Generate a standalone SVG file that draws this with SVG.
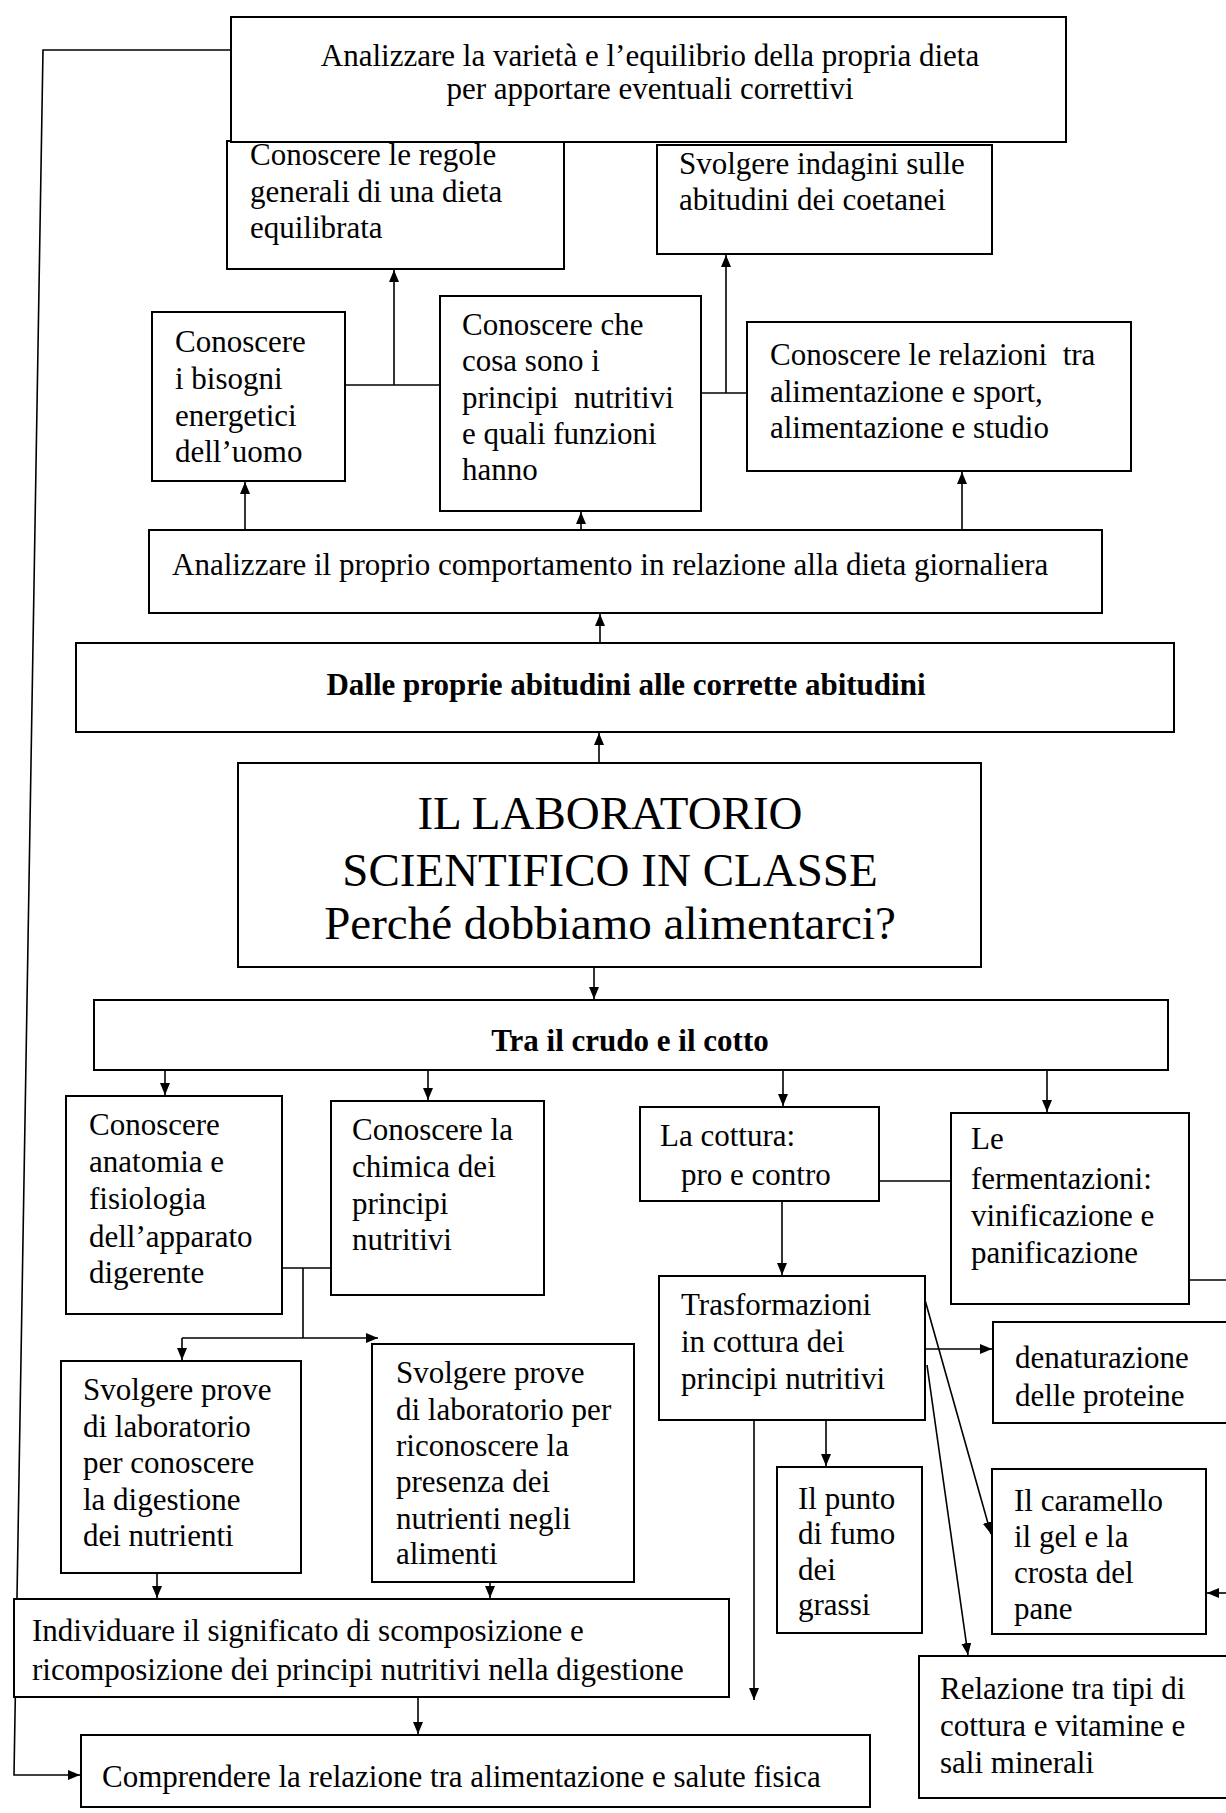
<svg xmlns="http://www.w3.org/2000/svg" width="1226" height="1813" viewBox="0 0 1226 1813">
<style>
.box{fill:#fff;stroke:#000;stroke-width:2}
.t{font-family:"Liberation Serif","Times New Roman",serif;font-size:31px;fill:#000}
.b{font-weight:bold}
.c{text-anchor:middle}
.ttl{font-size:47px}
.conn{stroke:#000;stroke-width:1.6;fill:none}
</style>
<defs>
<marker id="ah" markerUnits="userSpaceOnUse" markerWidth="12" markerHeight="10" refX="12" refY="5" orient="auto">
<path d="M0,0 L12,5 L0,10 z" fill="#000"/>
</marker>
</defs>
<rect width="1226" height="1813" fill="#fff"/>

<g id="connectors">
<polyline class="conn" points="231,50 43,50 14,1775 80,1775" marker-end="url(#ah)"/>
<line class="conn" x1="345" y1="385" x2="440" y2="385"/>
<line class="conn" x1="394" y1="385" x2="394" y2="270" marker-end="url(#ah)"/>
<line class="conn" x1="701" y1="393" x2="747" y2="393"/>
<line class="conn" x1="726" y1="393" x2="726" y2="255" marker-end="url(#ah)"/>
<line class="conn" x1="245" y1="530" x2="245" y2="482" marker-end="url(#ah)"/>
<line class="conn" x1="581" y1="530" x2="581" y2="512" marker-end="url(#ah)"/>
<line class="conn" x1="962" y1="530" x2="962" y2="472" marker-end="url(#ah)"/>
<line class="conn" x1="600" y1="643" x2="600" y2="614" marker-end="url(#ah)"/>
<line class="conn" x1="599" y1="763" x2="599" y2="733" marker-end="url(#ah)"/>
<line class="conn" x1="594" y1="967" x2="594" y2="999" marker-end="url(#ah)"/>
<line class="conn" x1="165" y1="1070" x2="165" y2="1095" marker-end="url(#ah)"/>
<line class="conn" x1="428" y1="1070" x2="428" y2="1100" marker-end="url(#ah)"/>
<line class="conn" x1="783" y1="1070" x2="783" y2="1106" marker-end="url(#ah)"/>
<line class="conn" x1="1047" y1="1070" x2="1047" y2="1112" marker-end="url(#ah)"/>
<line class="conn" x1="282" y1="1268" x2="331" y2="1268"/>
<line class="conn" x1="303" y1="1268" x2="303" y2="1338"/>
<line class="conn" x1="182" y1="1338" x2="378" y2="1338" marker-end="url(#ah)"/>
<line class="conn" x1="182" y1="1338" x2="182" y2="1360" marker-end="url(#ah)"/>
<line class="conn" x1="157" y1="1573" x2="157" y2="1598" marker-end="url(#ah)"/>
<line class="conn" x1="490" y1="1582" x2="490" y2="1598" marker-end="url(#ah)"/>
<line class="conn" x1="418" y1="1697" x2="418" y2="1734" marker-end="url(#ah)"/>
<line class="conn" x1="879" y1="1181" x2="951" y2="1181"/>
<line class="conn" x1="1189" y1="1280" x2="1226" y2="1280"/>
<line class="conn" x1="1226" y1="1593" x2="1207" y2="1593" marker-end="url(#ah)"/>
<line class="conn" x1="782" y1="1201" x2="782" y2="1275" marker-end="url(#ah)"/>
<line class="conn" x1="925" y1="1349" x2="992" y2="1349" marker-end="url(#ah)"/>
<line class="conn" x1="826" y1="1420" x2="826" y2="1466" marker-end="url(#ah)"/>
<line class="conn" x1="754" y1="1420" x2="754" y2="1700" marker-end="url(#ah)"/>
<line class="conn" x1="925" y1="1300" x2="991" y2="1534" marker-end="url(#ah)"/>
<line class="conn" x1="927" y1="1365" x2="968" y2="1655" marker-end="url(#ah)"/>
</g>

<g id="n-regole"><rect class="box" x="227" y="141" width="337" height="128"/>
<text class="t" x="250" y="165">Conoscere le regole</text>
<text class="t" x="250" y="202">generali di una dieta</text>
<text class="t" x="250" y="238">equilibrata</text></g>

<g id="n-indagini"><rect class="box" x="657" y="145" width="335" height="109"/>
<text class="t" x="679" y="174">Svolgere indagini sulle</text>
<text class="t" x="679" y="210">abitudini dei coetanei</text></g>

<g id="n-analizzare-varieta"><rect class="box" x="231" y="17" width="835" height="125"/>
<text class="t c" x="650" y="66">Analizzare la varietà e l’equilibrio della propria dieta</text>
<text class="t c" x="650" y="99">per apportare eventuali correttivi</text></g>

<g id="n-bisogni"><rect class="box" x="152" y="312" width="193" height="169"/>
<text class="t" x="175" y="352">Conoscere</text>
<text class="t" x="175" y="389">i bisogni</text>
<text class="t" x="175" y="426">energetici</text>
<text class="t" x="175" y="462">dell’uomo</text></g>

<g id="n-principi"><rect class="box" x="440" y="296" width="261" height="215"/>
<text class="t" x="462" y="335">Conoscere che</text>
<text class="t" x="462" y="371">cosa sono i</text>
<text class="t" x="462" y="408" xml:space="preserve">principi  nutritivi</text>
<text class="t" x="462" y="444">e quali funzioni</text>
<text class="t" x="462" y="480">hanno</text></g>

<g id="n-relazioni"><rect class="box" x="747" y="322" width="384" height="149"/>
<text class="t" x="770" y="365" xml:space="preserve">Conoscere le relazioni  tra</text>
<text class="t" x="770" y="402">alimentazione e sport,</text>
<text class="t" x="770" y="438">alimentazione e studio</text></g>

<g id="n-comportamento"><rect class="box" x="149" y="530" width="953" height="83"/>
<text class="t" x="172" y="575">Analizzare il proprio comportamento in relazione alla dieta giornaliera</text></g>

<g id="n-abitudini"><rect class="box" x="76" y="643" width="1098" height="89"/>
<text class="t b c" x="626" y="695">Dalle proprie abitudini alle corrette abitudini</text></g>

<g id="n-titolo"><rect class="box" x="238" y="763" width="743" height="204"/>
<text class="t ttl c" x="610" y="829">IL LABORATORIO</text>
<text class="t ttl c" x="610" y="886">SCIENTIFICO IN CLASSE</text>
<text class="t ttl c" x="610" y="939">Perché dobbiamo alimentarci?</text></g>

<g id="n-crudo-cotto"><rect class="box" x="94" y="1000" width="1074" height="70"/>
<text class="t b c" x="630" y="1051">Tra il crudo e il cotto</text></g>

<g id="n-anatomia"><rect class="box" x="66" y="1096" width="216" height="218"/>
<text class="t" x="89" y="1135">Conoscere</text>
<text class="t" x="89" y="1172">anatomia e</text>
<text class="t" x="89" y="1209">fisiologia</text>
<text class="t" x="89" y="1247">dell’apparato</text>
<text class="t" x="89" y="1283">digerente</text></g>

<g id="n-chimica"><rect class="box" x="331" y="1101" width="213" height="194"/>
<text class="t" x="352" y="1140">Conoscere la</text>
<text class="t" x="352" y="1177">chimica dei</text>
<text class="t" x="352" y="1214">principi</text>
<text class="t" x="352" y="1250">nutritivi</text></g>

<g id="n-cottura"><rect class="box" x="640" y="1107" width="239" height="94"/>
<text class="t" x="660" y="1146">La cottura:</text>
<text class="t" x="681" y="1185">pro e contro</text></g>

<g id="n-fermentazioni"><rect class="box" x="951" y="1113" width="238" height="191"/>
<text class="t" x="971" y="1149">Le</text>
<text class="t" x="971" y="1189">fermentazioni:</text>
<text class="t" x="971" y="1226">vinificazione e</text>
<text class="t" x="971" y="1263">panificazione</text></g>

<g id="n-prove-digestione"><rect class="box" x="61" y="1361" width="240" height="212"/>
<text class="t" x="83" y="1400">Svolgere prove</text>
<text class="t" x="83" y="1437">di laboratorio</text>
<text class="t" x="83" y="1473">per conoscere</text>
<text class="t" x="83" y="1510">la digestione</text>
<text class="t" x="83" y="1546">dei nutrienti</text></g>

<g id="n-prove-nutrienti"><rect class="box" x="372" y="1344" width="262" height="238"/>
<text class="t" x="396" y="1383">Svolgere prove</text>
<text class="t" x="396" y="1420">di laboratorio per</text>
<text class="t" x="396" y="1456">riconoscere la</text>
<text class="t" x="396" y="1492">presenza dei</text>
<text class="t" x="396" y="1529">nutrienti negli</text>
<text class="t" x="396" y="1564">alimenti</text></g>

<g id="n-individuare"><rect class="box" x="14" y="1599" width="715" height="98"/>
<text class="t" x="32" y="1641">Individuare il significato di scomposizione e</text>
<text class="t" x="32" y="1680">ricomposizione dei principi nutritivi nella digestione</text></g>

<g id="n-comprendere"><rect class="box" x="81" y="1735" width="789" height="72"/>
<text class="t" x="102" y="1787">Comprendere la relazione tra alimentazione e salute fisica</text></g>

<g id="n-trasformazioni"><rect class="box" x="659" y="1276" width="266" height="144"/>
<text class="t" x="681" y="1315">Trasformazioni</text>
<text class="t" x="681" y="1352">in cottura dei</text>
<text class="t" x="681" y="1389">principi nutritivi</text></g>

<g id="n-denaturazione"><rect class="box" x="993" y="1322" width="250" height="101"/>
<text class="t" x="1015" y="1368">denaturazione</text>
<text class="t" x="1015" y="1406">delle proteine</text></g>

<g id="n-fumo"><rect class="box" x="777" y="1467" width="145" height="166"/>
<text class="t" x="798" y="1509">Il punto</text>
<text class="t" x="798" y="1544">di fumo</text>
<text class="t" x="798" y="1580">dei</text>
<text class="t" x="798" y="1615">grassi</text></g>

<g id="n-caramello"><rect class="box" x="992" y="1469" width="214" height="165"/>
<text class="t" x="1014" y="1511">Il caramello</text>
<text class="t" x="1014" y="1547">il gel e la</text>
<text class="t" x="1014" y="1583">crosta del</text>
<text class="t" x="1014" y="1619">pane</text></g>

<g id="n-vitamine"><rect class="box" x="919" y="1656" width="320" height="142"/>
<text class="t" x="940" y="1699">Relazione tra tipi di</text>
<text class="t" x="940" y="1736">cottura e vitamine e</text>
<text class="t" x="940" y="1773">sali minerali</text></g>
</svg>
